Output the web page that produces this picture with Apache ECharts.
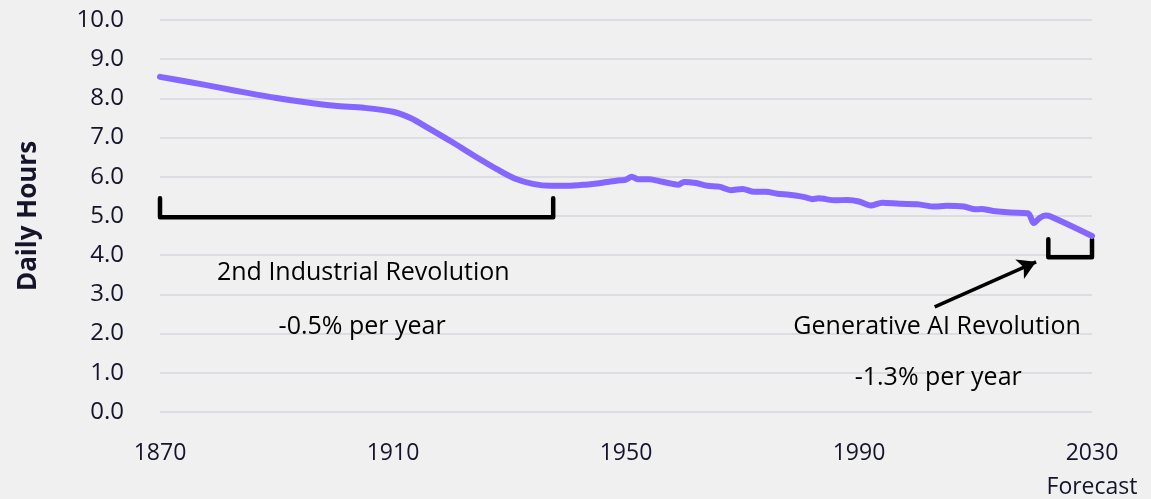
<!DOCTYPE html>
<html>
<head>
<meta charset="utf-8">
<script src="https://cdn.jsdelivr.net/npm/echarts@6/dist/echarts.min.js"></script>
<style>
  html, body { margin: 0; padding: 0; background: #f0f0f0; }
  #chart { width: 1151px; height: 499px; }
</style>
</head>
<body>
<div id="chart"></div>
<script>
// Average daily working hours, 1870 to the 2030 forecast
const years = [1870, 1875, 1880, 1885, 1890, 1895, 1900, 1905, 1910, 1913, 1916, 1920, 1924, 1928, 1931, 1934, 1937, 1940, 1943, 1946, 1949, 1950, 1951, 1952, 1954, 1956, 1958, 1959, 1960, 1962, 1964, 1966, 1968, 1970, 1972, 1974, 1976, 1978, 1980, 1981, 1982, 1983, 1986, 1988, 1990, 1992, 1994, 1997, 2000, 2003, 2005, 2008, 2010, 2011, 2013, 2016, 2019, 2020, 2021, 2022, 2023, 2030];
const hours = [8.55, 8.42, 8.28, 8.14, 8.01, 7.90, 7.81, 7.76, 7.66, 7.50, 7.25, 6.90, 6.53, 6.18, 5.95, 5.82, 5.77, 5.77, 5.80, 5.85, 5.91, 5.93, 6.00, 5.94, 5.94, 5.88, 5.82, 5.80, 5.87, 5.84, 5.77, 5.75, 5.66, 5.69, 5.62, 5.62, 5.57, 5.54, 5.50, 5.47, 5.43, 5.45, 5.40, 5.41, 5.37, 5.27, 5.34, 5.31, 5.30, 5.24, 5.26, 5.24, 5.17, 5.18, 5.13, 5.09, 5.07, 4.82, 4.95, 5.01, 4.98, 4.49];

// Axis ticks
const xTicks = [1870, 1910, 1950, 1990, 2030];
const xTickLabels = ['1870', '1910', '1950', '1990', '2030\nForecast'];
const yTicks = [0, 1, 2, 3, 4, 5, 6, 7, 8, 9, 10];

// Period brackets: [start year, end year, top hours, bottom hours]
const periods = [
  { name: '2nd Industrial Revolution', rate: '-0.5% per year', from: 1870, to: 1937.5, top: 5.45, bottom: 4.97 },
  { name: 'Generative AI Revolution', rate: '-1.3% per year', from: 2022.5, to: 2030, top: 4.41, bottom: 3.95 }
];

const FONT = '"Open Sans", "Noto Sans", sans-serif';
const INK = '#14142b';

const chart = echarts.init(document.getElementById('chart'), null, { renderer: 'canvas' });

const mainData = years.map((y, i) => [y, hours[i]]);

const bracketSeries = periods.map(p => ({
  type: 'line',
  silent: true,
  clip: false,
  symbol: 'none',
  z: 3,
  lineStyle: { color: '#000', width: 4.5, cap: 'round', join: 'round' },
  data: [[p.from, p.top], [p.from, p.bottom], [p.to, p.bottom], [p.to, p.top]]
}));

// Text annotations for each period, placed in data coordinates
const notes = [
  { text: periods[0].name, at: [1904.9, 3.55] },
  { text: periods[0].rate, at: [1904.7, 2.17] },
  { text: periods[1].name, at: [2003.4, 2.17] },
  { text: periods[1].rate, at: [2003.6, 0.87] }
];

const option = {
  backgroundColor: '#f0f0f0',
  animation: false,
  grid: { left: 160, right: 59, top: 20, bottom: 87, containLabel: false, outerBoundsMode: 'none' },
  xAxis: {
    type: 'value',
    min: 1870,
    max: 2030,
    interval: 40,
    axisLine: { show: false },
    axisTick: { show: false },
    splitLine: { show: false },
    axisLabel: {
      margin: 24,
      fontFamily: FONT,
      fontSize: 23,
      lineHeight: 34,
      color: INK,
      formatter: v => {
        const i = xTicks.indexOf(Math.round(v));
        return i >= 0 ? xTickLabels[i] : '';
      }
    }
  },
  yAxis: {
    type: 'value',
    min: yTicks[0],
    max: yTicks[yTicks.length - 1],
    interval: 1,
    name: 'Daily Hours',
    nameLocation: 'middle',
    nameRotate: 90,
    nameGap: 118,
    nameTextStyle: { fontFamily: FONT, fontSize: 26, fontWeight: 'bold', color: INK },
    axisLine: { show: false },
    axisTick: { show: false },
    splitLine: { lineStyle: { color: '#d6d6de', width: 1.5 } },
    axisLabel: {
      margin: 36,
      fontFamily: FONT,
      fontSize: 24,
      color: INK,
      formatter: v => v.toFixed(1)
    }
  },
  series: [
    {
      type: 'line',
      name: 'Daily Hours',
      data: mainData,
      symbol: 'none',
      smooth: 0.3,
      z: 4,
      lineStyle: { color: '#8566ff', width: 6, cap: 'round', join: 'round' },
      markLine: {
        silent: true,
        symbol: ['none', 'arrow'],
        symbolSize: [16, 18],
        label: { show: false },
        lineStyle: { color: '#000', width: 3.5, type: 'solid' },
        data: [[{ coord: [2003.0, 2.68] }, { coord: [2020.4, 3.83] }]]
      }
    },
    ...bracketSeries,
    {
      type: 'scatter',
      silent: true,
      symbolSize: 0,
      z: 5,
      itemStyle: { opacity: 1 },
      data: notes.map(n => ({ value: n.at, name: n.text })),
      label: {
        show: true,
        position: 'inside',
        formatter: '{b}',
        fontFamily: FONT,
        fontSize: 25,
        color: '#000',
        opacity: 1
      }
    }
  ]
};

chart.setOption(option);
</script>
</body>
</html>
